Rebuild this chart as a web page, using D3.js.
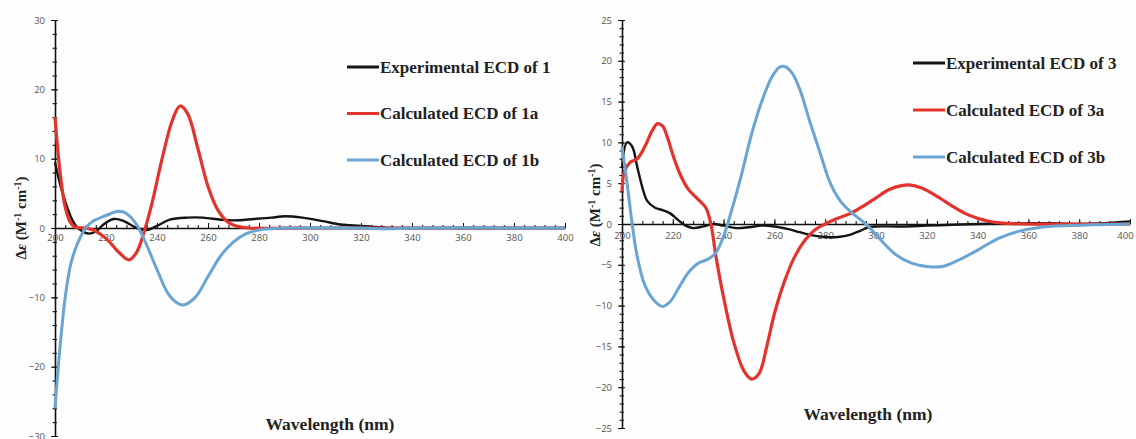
<!DOCTYPE html>
<html>
<head>
<meta charset="utf-8">
<script src="https://cdn.jsdelivr.net/npm/d3@7"></script>
<style>
  body { margin: 0; background: #fdfdfd; }
  svg { display: block; }
  .tick text { font-family: "Open Sans", "DejaVu Sans", sans-serif; font-size: 9.5px; fill: #555; }
  .lbl { font-family: "Liberation Serif", "Times New Roman", serif; font-weight: bold; fill: #222; }
</style>
</head>
<body>
<svg></svg>
<script>
// wavelength ticks
var xTicks = [200, 220, 240, 260, 280, 300, 320, 340, 360, 380, 400];
var yTicksLeft = [-30, -20, -10, 0, 10, 20, 30];
var yTicksRight = [-25, -20, -15, -10, -5, 0, 5, 10, 15, 20, 25];

var legendLeft = ['Experimental ECD of 1', 'Calculated ECD of 1a', 'Calculated ECD of 1b'];
var legendRight = ['Experimental ECD of 3', 'Calculated ECD of 3a', 'Calculated ECD of 3b'];

// [nm, delta epsilon]
var exp1 = [[200,9.5],[203,5],[207,1],[209,0],[213,-0.8],[216,-0.5],[219,0.5],[223,1.3],[227,1],[232,0],[236,-0.3],[240,0.3],[245,1.2],[252,1.5],[258,1.5],[265,1.2],[270,1.1],[278,1.3],[285,1.5],[290,1.7],[297,1.5],[305,1.0],[312,0.5],[320,0.3],[330,0.05],[340,0],[360,0],[380,0],[400,0]];
var calc1a = [[200,16],[202,8],[204,3],[206,0.8],[208,0.1],[212,0],[215,-0.3],[220,-1.5],[225,-3.5],[229,-4.6],[232,-3.5],[235,-0.5],[238,3.5],[242,10],[246,15.5],[249,17.6],[252,16.5],[256,11.5],[260,6],[264,2.5],[268,0.8],[272,0.2],[276,0],[300,0],[340,0],[400,0]];
var calc1b = [[200,-26],[202,-17],[204,-10],[206,-5.5],[208,-3],[210,-1.3],[212,0],[215,1],[220,1.8],[225,2.4],[228,2.1],[232,0.5],[236,-2.5],[240,-6],[245,-9.8],[250,-11.1],[255,-10],[260,-7],[265,-4],[270,-2],[275,-0.8],[280,-0.3],[285,-0.1],[290,0],[320,0],[330,-0.1],[340,0],[400,0]];

var exp3 = [[200,7],[202,10],[204,9.5],[206,7],[208,4.5],[210,2.8],[213,2],[216,1.7],[219,1.3],[222,0.5],[225,-0.2],[228,-0.5],[232,-0.3],[236,0],[240,-0.2],[245,-0.5],[250,-0.4],[255,-0.2],[260,-0.3],[265,-0.6],[270,-1],[275,-1.4],[280,-1.6],[285,-1.6],[290,-1.3],[294,-0.8],[297,-0.4],[300,-0.3],[310,-0.3],[320,-0.2],[330,-0.1],[340,0],[360,0.1],[370,0.1],[380,0],[390,0.1],[400,0.3]];
var calc3a = [[200,4],[201,6.5],[203,7.5],[206,8],[209,9.5],[212,11.5],[214,12.3],[216,12],[218,10.5],[220,8.5],[223,6],[226,4.3],[230,3],[233,2],[235,0],[237,-4],[240,-9],[244,-14.5],[248,-18],[251,-19],[254,-18.3],[257,-15],[260,-11],[264,-7],[268,-4],[272,-2],[276,-0.7],[280,0],[285,0.7],[290,1.3],[295,2.2],[300,3.2],[305,4.2],[310,4.7],[313,4.8],[318,4.4],[325,3.2],[330,2.2],[335,1.3],[340,0.7],[345,0.3],[350,0.1],[360,0],[400,0]];
var calc3b = [[200,9.5],[202,5],[204,0],[206,-4],[209,-7.5],[213,-9.5],[216,-10.1],[219,-9.5],[222,-8],[226,-6],[230,-4.8],[234,-4.3],[237,-3.5],[240,-1.5],[243,1.5],[247,6],[251,11],[255,15],[259,18],[262,19.2],[264,19.3],[267,18.5],[270,16.5],[274,12.5],[278,8.7],[282,5],[286,2.8],[290,1.5],[294,0.5],[297,-0.3],[302,-2],[308,-3.8],[314,-4.8],[320,-5.2],[326,-5.2],[332,-4.5],[340,-3.2],[348,-1.8],[356,-0.9],[365,-0.4],[375,-0.2],[385,-0.1],[400,0]];

var colors = ['#141414', '#e2332c', '#6aa4d2'];
var widths = [2.4, 3.2, 3];

var svg = d3.select('svg').attr('width', 1136).attr('height', 439);

function drawPanel(p) {
  var x = d3.scaleLinear().domain([200, 400]).range([p.x0, p.x1]);
  var y = d3.scaleLinear().domain(p.yDomain).range([p.yBottom, p.yTop]);
  var g = svg.append('g');

  // minor ticks
  var xMinor = d3.range(200, 401, 4);
  var yMinor = d3.range(p.yDomain[0], p.yDomain[1] + 0.01, p.yMinorStep);

  g.append('g')
    .attr('transform', 'translate(0,' + y(0) + ')')
    .call(d3.axisBottom(x).tickValues(xMinor).tickSize(3).tickFormat(''))
    .call(function(a) { a.selectAll('line').attr('y1', -3).attr('y2', 0); a.select('.domain').remove(); });

  g.append('g')
    .attr('transform', 'translate(' + p.x0 + ',0)')
    .call(d3.axisLeft(y).tickValues(yMinor).tickSize(2).tickFormat(''))
    .call(function(a) { a.selectAll('line').attr('x1', 2).attr('x2', -2.5); a.select('.domain').remove(); });

  // y axis
  var yAxis = g.append('g')
    .attr('transform', 'translate(' + p.x0 + ',0)')
    .call(d3.axisLeft(y).tickValues(p.yTicks).tickSize(4).tickPadding(6).tickSizeOuter(0));
  yAxis.selectAll('line').attr('x1', 3).attr('stroke', '#111');
  yAxis.select('.domain').attr('stroke', '#111').attr('stroke-width', 1.6);

  var line = d3.line()
    .x(function(d) { return x(d[0]); })
    .y(function(d) { return y(d[1]); })
    .curve(d3.curveCatmullRom.alpha(0.5));

  // x axis under the curves
  var xAxis = g.append('g')
    .attr('transform', 'translate(0,' + y(0) + ')')
    .call(d3.axisBottom(x).tickValues(xTicks).tickSize(0).tickPadding(p.xPad).tickSizeOuter(0));
  xAxis.select('.domain').attr('stroke', '#111').attr('stroke-width', 1.4);
  xAxis.selectAll('line').remove();
  xAxis.selectAll('text').attr('dy', '0.71em');
  xAxis.selectAll('text').filter(function(d) { return d === 400; }).attr('dx', p.lastDx);
  g.append('g')
    .attr('transform', 'translate(0,' + y(0) + ')')
    .call(d3.axisBottom(x).tickValues(xTicks.slice(1)).tickSize(0).tickFormat(''))
    .call(function(a) { a.selectAll('line').attr('y1', -5).attr('y2', 0).attr('stroke', '#111'); a.select('.domain').remove(); });

  p.series.forEach(function(s, i) {
    g.append('path')
      .datum(s)
      .attr('fill', 'none')
      .attr('stroke', colors[i])
      .attr('stroke-width', widths[i])
      .attr('stroke-linejoin', 'round')
      .attr('d', line);
  });

  // legend
  p.legend.forEach(function(t, i) {
    var ly = p.legY + i * p.legGap;
    g.append('line')
      .attr('x1', p.legX).attr('x2', p.legX + 32)
      .attr('y1', ly).attr('y2', ly)
      .attr('stroke', colors[i]).attr('stroke-width', 3);
    g.append('text')
      .attr('class', 'lbl')
      .attr('x', p.legX + 33).attr('y', ly)
      .attr('dy', '0.35em')
      .style('font-size', '17px')
      .text(t);
  });

  // axis titles
  g.append('text')
    .attr('class', 'lbl')
    .attr('x', p.xLabX).attr('y', p.xLabY)
    .attr('text-anchor', 'middle')
    .style('font-size', '17.5px')
    .text('Wavelength (nm)');

  var yl = g.append('text')
    .attr('class', 'lbl')
    .attr('transform', 'translate(' + p.yLabX + ',' + p.yLabY + ') rotate(-90)')
    .attr('text-anchor', 'middle')
    .style('font-size', '15px');
  yl.append('tspan').text('Δ');
  yl.append('tspan').style('font-style', 'italic').text('ε');
  yl.append('tspan').text(' (M');
  yl.append('tspan').attr('dy', -5).style('font-size', '10px').text('-1');
  yl.append('tspan').attr('dy', 5).text(' cm');
  yl.append('tspan').attr('dy', -5).style('font-size', '10px').text('-1');
  yl.append('tspan').attr('dy', 5).text(')');
}

drawPanel({
  x0: 55, x1: 565, yDomain: [-30, 30], yTop: 20, yBottom: 436, yMinorStep: 2,
  yTicks: yTicksLeft, xPad: 6, lastDx: 0,
  series: [exp1, calc1a, calc1b], legend: legendLeft,
  legX: 347, legY: 67, legGap: 46.5,
  xLabX: 330, xLabY: 430, yLabX: 26, yLabY: 218
});

drawPanel({
  x0: 622, x1: 1130, yDomain: [-25, 25], yTop: 20, yBottom: 428, yMinorStep: 1,
  yTicks: yTicksRight, xPad: 8, lastDx: -5,
  series: [exp3, calc3a, calc3b], legend: legendRight,
  legX: 913, legY: 63, legGap: 47,
  xLabX: 868, xLabY: 420, yLabX: 600, yLabY: 205
});
</script>
</body>
</html>
